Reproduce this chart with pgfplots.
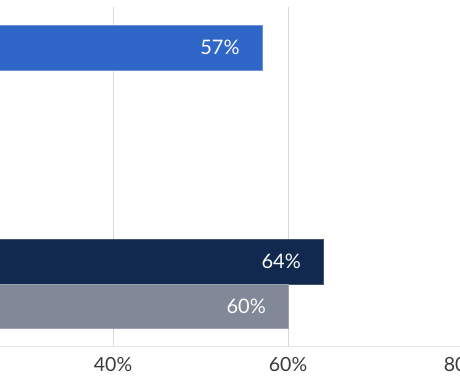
\documentclass[border=0pt]{standalone}
\usepackage{pgfplots}
\pgfplotsset{compat=1.18}
\usepackage{fontspec}
\setmainfont{Lato}
\definecolor{cblue}{HTML}{2F66C8}
\definecolor{cnavy}{HTML}{11294F}
\definecolor{cgray}{HTML}{818898}
\definecolor{cgrid}{HTML}{D3D7E2}
\definecolor{caxis}{HTML}{E2E4E8}
\definecolor{ctick}{HTML}{3A3A3A}
\begin{document}
\begin{tikzpicture}
\begin{axis}[
  at={(0pt,0pt)}, anchor=south west,
  scale only axis, width=700pt, height=339pt,
  xmin=0, xmax=80, ymin=0, ymax=339,
  axis y line=none,
  axis x line*=bottom,
  x axis line style={draw=caxis, line width=1pt},
  xtick={40,60,80},
  xticklabel={\pgfmathprintnumber{\tick}\%},
  /pgf/number format/assume math mode=true,
  xticklabel style={font=\fontsize{19.5}{21}\selectfont, text=ctick, yshift=-8pt},
  major tick length=0pt,
  xmajorgrids,
  grid style={draw=cgrid, line width=1pt},
  ytick=\empty,
  xbar, bar shift=0pt,
  nodes near coords={\pgfmathprintnumber{\pgfplotspointmeta}\%},
  every node near coord/.append style={anchor=east, xshift=-22pt, text=white!95!cgrid,
    font=\fontsize{20}{22}\selectfont, inner sep=0pt},
  clip=false,
]
\addplot[fill=cblue, draw=cblue!70!white, bar width=45] coordinates {(57,298.5)};
\addplot[fill=cnavy, draw=cnavy!80!white, bar width=45] coordinates {(64,84.5)};
\addplot[fill=cgray, draw=cgray!80!white, bar width=44] coordinates {(60,40)};
\end{axis}
\pgfresetboundingbox
\useasboundingbox (237pt,-42pt) rectangle (697pt,346pt);
\end{tikzpicture}
\end{document}
